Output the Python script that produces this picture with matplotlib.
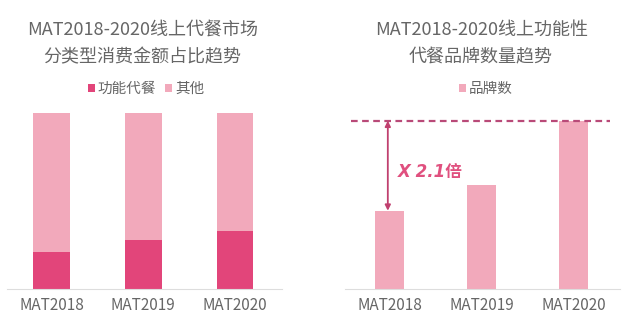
import matplotlib.pyplot as plt

plt.rcParams['font.family'] = ['Noto Sans CJK SC', 'DejaVu Sans']

years = ["MAT2018", "MAT2019", "MAT2020"]
# 分类型消费金额占比 (%)
func_share = [21, 28, 33]
other_share = [79, 72, 67]
# 品牌数 (以MAT2018为1的相对值)
brand_index = [1.0, 1.33, 2.15]
growth_label = "X 2.1倍"

DARK = "#e2457a"
LIGHT = "#f2a9bb"
GRAY = "#666666"
W, H = 640, 335

fig = plt.figure(figsize=(6.4, 3.35), dpi=100)


def px_axes(x0, x1, ytop, ybot):
    return fig.add_axes([x0 / W, 1 - ybot / H, (x1 - x0) / W, (ybot - ytop) / H])


def style(ax):
    for s in ["top", "right", "left"]:
        ax.spines[s].set_visible(False)
    ax.spines["bottom"].set_color("#dddddd")
    ax.set_yticks([])
    ax.set_xticks(range(len(years)))
    ax.set_xticklabels(years, fontsize=11, color=GRAY)
    ax.tick_params(axis="x", length=0, pad=6)


# 左图
ax1 = px_axes(7, 282, 113, 289)
x = range(len(years))
ax1.bar(x, func_share, width=0.4, color=DARK, label="功能代餐")
ax1.bar(x, other_share, bottom=func_share, width=0.4, color=LIGHT, label="其他")
ax1.set_xlim(-0.484, 2.511)
ax1.set_ylim(0, 100)
style(ax1)
ax1.legend(loc="center", bbox_to_anchor=(146 / W, 1 - 89 / H), bbox_transform=fig.transFigure,
           ncol=2, frameon=False, fontsize=10.5, handlelength=0.5, handleheight=0.5,
           handletextpad=0.2, columnspacing=0.6, labelcolor=GRAY)
fig.text(142.5 / W, 1 - 30 / H, "MAT2018-2020线上代餐市场", ha="center", va="center",
         fontsize=13, color=GRAY)
fig.text(142.5 / W, 1 - 57 / H, "分类型消费金额占比趋势", ha="center", va="center",
         fontsize=13, color=GRAY)

# 右图
ax2 = px_axes(345, 620, 120.7, 289)
ax2.bar(x, brand_index, width=0.315, color=LIGHT, label="品牌数")
ax2.set_xlim(-0.486, 2.507)
ax2.set_ylim(0, max(brand_index))
style(ax2)
ax2.axhline(max(brand_index), xmin=0.021, xmax=0.964, color="#b94a78", lw=1.6,
            linestyle=(0, (3, 2)), clip_on=False)
ax2.annotate("", xy=(-0.02, brand_index[0]), xytext=(-0.02, max(brand_index)),
             arrowprops=dict(arrowstyle="<|-|>", color="#c0406f", lw=1.3,
                             mutation_scale=8, shrinkA=0, shrinkB=0))
ax2.text(0.09, 1.5, growth_label, fontsize=12, color="#e0507f", fontweight="bold",
         fontstyle="italic", family=["DejaVu Sans", "Noto Sans CJK SC"],
         va="center", ha="left")
ax2.legend(loc="center", bbox_to_anchor=(486 / W, 1 - 89 / H), bbox_transform=fig.transFigure,
           frameon=False, fontsize=10.5, handlelength=0.5, handleheight=0.5,
           handletextpad=0.2, labelcolor=GRAY)
fig.text(482 / W, 1 - 30 / H, "MAT2018-2020线上功能性", ha="center", va="center",
         fontsize=13, color=GRAY)
fig.text(481 / W, 1 - 57 / H, "代餐品牌数量趋势", ha="center", va="center",
         fontsize=13, color=GRAY)

fig.savefig("out.png", dpi=100, facecolor="white")
